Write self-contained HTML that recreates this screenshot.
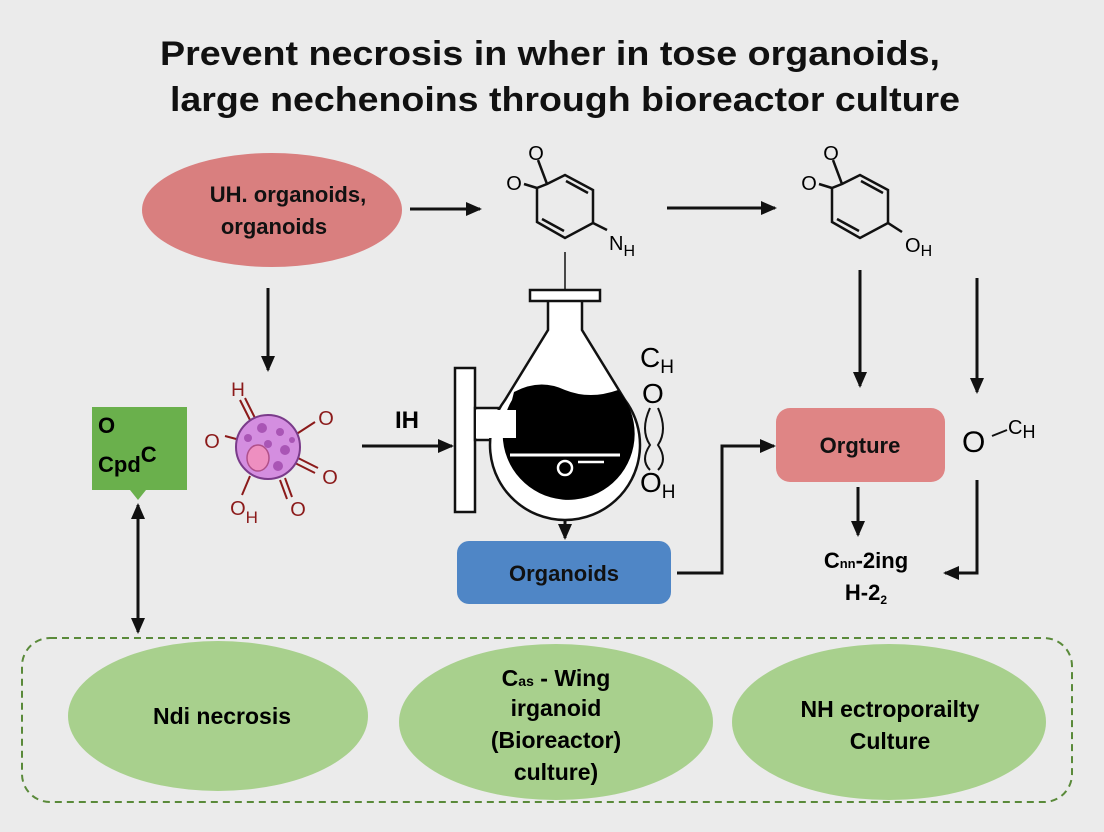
<!DOCTYPE html>
<html><head><meta charset="utf-8"><style>
html,body{margin:0;padding:0;background:#ebebeb;}
svg{display:block;font-family:"Liberation Sans",sans-serif;}
</style></head><body>
<svg width="1104" height="832" viewBox="0 0 1104 832" xmlns="http://www.w3.org/2000/svg">
<defs>
<marker id="ah2" markerWidth="16" markerHeight="14" refX="14" refY="7" orient="auto" markerUnits="userSpaceOnUse"><path d="M0,0 L16,7 L0,14 z" fill="#111"/></marker>
</defs>
<rect width="1104" height="832" fill="#ebebeb"/>
<text x="160" y="65" font-size="34" font-weight="bold" fill="#111" textLength="780" lengthAdjust="spacingAndGlyphs">Prevent necrosis in wher in tose organoids,</text>
<text x="170" y="111" font-size="34" font-weight="bold" fill="#111" textLength="790" lengthAdjust="spacingAndGlyphs">large nechenoins through bioreactor culture</text>

<ellipse cx="272" cy="210" rx="130" ry="57" fill="#d97f7f"/>
<text x="288" y="202" font-size="22" font-weight="bold" text-anchor="middle" fill="#111">UH. organoids,</text>
<text x="274" y="234" font-size="22" font-weight="bold" text-anchor="middle" fill="#111">organoids</text>

<g stroke="#111" stroke-width="3" fill="none">
<line x1="410" y1="209" x2="480" y2="209" marker-end="url(#ah2)"/>
<line x1="667" y1="208" x2="775" y2="208" marker-end="url(#ah2)"/>
<line x1="268" y1="288" x2="268" y2="370" marker-end="url(#ah2)"/>
<line x1="362" y1="446" x2="452" y2="446" marker-end="url(#ah2)"/>
<line x1="860" y1="270" x2="860" y2="386" marker-end="url(#ah2)"/>
<line x1="977" y1="278" x2="977" y2="392" marker-end="url(#ah2)"/>
<line x1="858" y1="487" x2="858" y2="535" marker-end="url(#ah2)"/>
<polyline points="977,480 977,573 945,573" marker-end="url(#ah2)"/>
<polyline points="677,573 722,573 722,446 774,446" marker-end="url(#ah2)"/>
<line x1="565" y1="498" x2="565" y2="538" marker-end="url(#ah2)"/>
<line x1="138" y1="520" x2="138" y2="632" marker-end="url(#ah2)"/>
<line x1="138" y1="620" x2="138" y2="505" marker-end="url(#ah2)"/>
</g>

<!-- molecule 1 -->
<g stroke="#111" stroke-width="2.5" fill="none">
<polygon points="547,184 565,175 593,190 593,223 565,238 537,222 537,188"/>
<line x1="566" y1="181" x2="588" y2="193"/>
<line x1="542" y1="219" x2="564" y2="231"/>
<line x1="547" y1="184" x2="538" y2="160"/>
<line x1="537" y1="188" x2="524" y2="184"/>
<line x1="593" y1="223" x2="607" y2="230"/>
<line x1="565" y1="252" x2="565" y2="300" stroke-width="1.5"/>
</g>
<text x="536" y="160" font-size="20" text-anchor="middle">O</text>
<text x="514" y="190" font-size="20" text-anchor="middle">O</text>
<text x="609" y="250" font-size="20">N<tspan font-size="16" dy="6">H</tspan></text>
<!-- molecule 2 -->
<g stroke="#111" stroke-width="2.5" fill="none" transform="translate(295,0)">
<polygon points="547,184 565,175 593,190 593,223 565,238 537,222 537,188"/>
<line x1="566" y1="181" x2="588" y2="193"/>
<line x1="542" y1="219" x2="564" y2="231"/>
<line x1="547" y1="184" x2="538" y2="160"/>
<line x1="537" y1="188" x2="524" y2="184"/>
<line x1="593" y1="223" x2="607" y2="232"/>
</g>
<text x="831" y="160" font-size="20" text-anchor="middle">O</text>
<text x="809" y="190" font-size="20" text-anchor="middle">O</text>
<text x="905" y="252" font-size="20">O<tspan font-size="16" dy="4">H</tspan></text>

<!-- flask -->
<g stroke="#111" stroke-width="2.5">
<rect x="455" y="368" width="20" height="144" fill="#fff"/>
<rect x="475" y="408" width="40" height="32" fill="#fff"/>
<path d="M548,300 L548,330 L505,400 A75,75 0 1,0 625,400 L582,330 L582,300 Z" fill="#fff"/>
<rect x="530" y="290" width="70" height="11" fill="#fff"/>
<path d="M514,392 Q540,378 565,390 Q590,400 618,390 A66,66 0 1,1 512,400 Z" fill="#000" stroke="none"/>
</g>
<rect x="476" y="410" width="40" height="28" fill="#fff"/>
<line x1="510" y1="455" x2="620" y2="455" stroke="#fff" stroke-width="3"/>
<circle cx="565" cy="468" r="7" fill="none" stroke="#fff" stroke-width="2.5"/>
<line x1="578" y1="462" x2="604" y2="462" stroke="#fff" stroke-width="2.5"/>
<text x="407" y="428" font-size="24" font-weight="bold" text-anchor="middle">IH</text>
<text x="640" y="367" font-size="28">C<tspan font-size="19" dy="6">H</tspan></text>
<text x="642" y="403" font-size="28">O</text>
<path d="M650,408 Q640,430 650,445 Q640,460 650,470 M658,408 Q668,430 658,445 Q668,460 658,470" stroke="#111" stroke-width="2" fill="none"/>
<text x="640" y="492" font-size="28">O<tspan font-size="19" dy="6">H</tspan></text>

<!-- green box -->
<path d="M92,407 H187 V490 H146 L138,500 L130,490 H92 Z" fill="#6ab04c"/>
<text x="98" y="433" font-size="22" font-weight="bold">O</text>
<text x="98" y="472" font-size="22" font-weight="bold">Cpd<tspan dy="-10">C</tspan></text>

<!-- cell -->
<g stroke="#8b1a1a" stroke-width="2" fill="none">
<line x1="250" y1="420" x2="240" y2="400"/><line x1="255" y1="418" x2="245" y2="398"/>
<line x1="295" y1="435" x2="315" y2="422"/>
<line x1="298" y1="458" x2="318" y2="468"/><line x1="295" y1="463" x2="315" y2="473"/>
<line x1="285" y1="478" x2="292" y2="497"/><line x1="280" y1="480" x2="287" y2="499"/>
<line x1="250" y1="476" x2="242" y2="495"/>
<line x1="240" y1="440" x2="225" y2="436"/>
</g>
<text x="238" y="396" font-size="19" fill="#8b1a1a" text-anchor="middle">H</text>
<text x="326" y="425" font-size="20" fill="#8b1a1a" text-anchor="middle">O</text>
<text x="330" y="484" font-size="20" fill="#8b1a1a" text-anchor="middle">O</text>
<text x="298" y="516" font-size="20" fill="#8b1a1a" text-anchor="middle">O</text>
<text x="244" y="515" font-size="20" fill="#8b1a1a" text-anchor="middle">O<tspan dy="8" font-size="17">H</tspan></text>
<text x="212" y="448" font-size="20" fill="#8b1a1a" text-anchor="middle">O</text>
<circle cx="268" cy="447" r="32" fill="#d48ee0" stroke="#7a3b8a" stroke-width="2"/>
<ellipse cx="258" cy="458" rx="11" ry="13" fill="#ee8fc0" stroke="#b0508a" stroke-width="1.5"/>
<g fill="#a955b5"><circle cx="262" cy="428" r="5"/><circle cx="280" cy="432" r="4"/><circle cx="285" cy="450" r="5"/><circle cx="278" cy="466" r="5"/><circle cx="248" cy="438" r="4"/><circle cx="268" cy="444" r="4"/><circle cx="292" cy="440" r="3"/></g>

<!-- boxes -->
<rect x="457" y="541" width="214" height="63" rx="12" fill="#4f86c6"/>
<text x="564" y="581" font-size="22" font-weight="bold" text-anchor="middle" fill="#111">Organoids</text>
<rect x="776" y="408" width="169" height="74" rx="14" fill="#df8585"/>
<text x="860" y="453" font-size="22" font-weight="bold" text-anchor="middle" fill="#111">Orgture</text>
<text x="962" y="452" font-size="30">O</text>
<line x1="992" y1="436" x2="1007" y2="430" stroke="#111" stroke-width="2"/>
<text x="1008" y="434" font-size="20">C<tspan font-size="18" dy="4">H</tspan></text>
<text x="866" y="568" font-size="22" font-weight="bold" text-anchor="middle">C<tspan font-size="13">nn</tspan>-2ing</text>
<text x="866" y="600" font-size="22" font-weight="bold" text-anchor="middle">H-2<tspan font-size="12" dy="4">2</tspan></text>

<!-- bottom -->
<rect x="22" y="638" width="1050" height="164" rx="28" fill="none" stroke="#5a8a3a" stroke-width="2" stroke-dasharray="7,5"/>
<ellipse cx="218" cy="716" rx="150" ry="75" fill="#a8d08d"/>
<ellipse cx="556" cy="722" rx="157" ry="78" fill="#a8d08d"/>
<ellipse cx="889" cy="722" rx="157" ry="78" fill="#a8d08d"/>
<text x="222" y="724" font-size="23" font-weight="bold" text-anchor="middle">Ndi necrosis</text>
<text x="556" y="686" font-size="23" font-weight="bold" text-anchor="middle">C<tspan font-size="14">as</tspan> - Wing</text>
<text x="556" y="716" font-size="23" font-weight="bold" text-anchor="middle">irganoid</text>
<text x="556" y="748" font-size="23" font-weight="bold" text-anchor="middle">(Bioreactor)</text>
<text x="556" y="780" font-size="23" font-weight="bold" text-anchor="middle">culture)</text>
<text x="890" y="717" font-size="23" font-weight="bold" text-anchor="middle">NH ectroporailty</text>
<text x="890" y="749" font-size="23" font-weight="bold" text-anchor="middle">Culture</text>
</svg>
</body></html>
